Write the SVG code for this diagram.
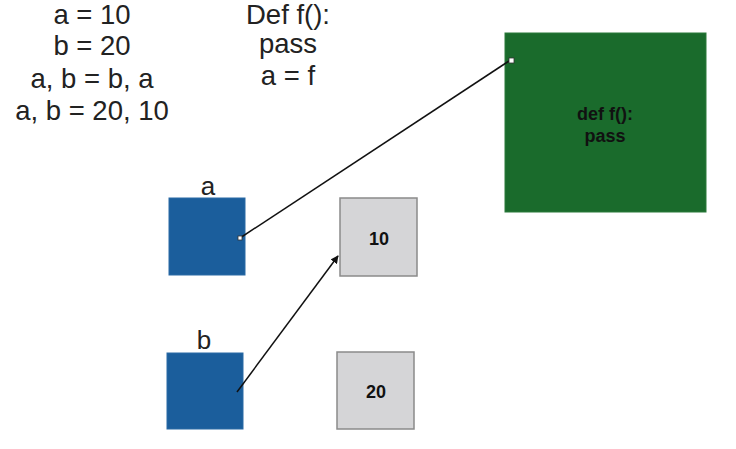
<svg xmlns="http://www.w3.org/2000/svg" width="736" height="449" viewBox="0 0 736 449">
<defs>
<style>
.code{font-family:"Liberation Sans",Arial,sans-serif;font-size:27.5px;fill:#222;text-anchor:middle}
.lbl{font-family:"Liberation Sans",Arial,sans-serif;font-size:26px;fill:#222;text-anchor:middle}
.val{font-family:"Liberation Sans",Arial,sans-serif;font-size:18px;font-weight:bold;fill:#111;text-anchor:middle}
.var{fill:#1b5e9c;stroke:#2a6aa5;stroke-width:1}
.obj{fill:#d5d5d7;stroke:#8a8a8a;stroke-width:1.5}
.fn{fill:#1a6b2c;stroke:#2a7a3a;stroke-width:1}
.dot{fill:#fff;stroke:#333;stroke-width:0.8}
.conn{stroke:#111;stroke-width:1.5;fill:none}
</style>
<marker id="arr" viewBox="0 0 10 10" refX="9" refY="5" markerWidth="8" markerHeight="8" markerUnits="userSpaceOnUse" orient="auto">
<path d="M0,0 L10,5 L0,10 z" fill="#111"/>
</marker>
</defs>
<rect width="736" height="449" fill="#fff"/>
<g id="code-left">
<text class="code" x="92" y="24">a = 10</text>
<text class="code" x="92" y="55">b = 20</text>
<text class="code" x="92" y="88">a, b = b, a</text>
<text class="code" x="92" y="120">a, b = 20, 10</text>
</g>
<g id="code-right">
<text class="code" x="288" y="24">Def f():</text>
<text class="code" x="288" y="53">pass</text>
<text class="code" x="288" y="85">a = f</text>
</g>
<g id="var-a">
<text class="lbl" x="208" y="195">a</text>
<rect class="var" x="169" y="198" width="76" height="77"/>
</g>
<g id="var-b">
<text class="lbl" x="204" y="349">b</text>
<rect class="var" x="167" y="353" width="76" height="76"/>
</g>
<g id="obj-10">
<rect class="obj" x="340" y="198" width="77" height="78"/>
<text class="val" x="379" y="245">10</text>
</g>
<g id="obj-20">
<rect class="obj" x="337" y="352" width="77" height="77"/>
<text class="val" x="376" y="398">20</text>
</g>
<g id="obj-func">
<rect class="fn" x="505" y="33" width="201" height="179"/>
<text class="val" x="605" y="120">def f():</text>
<text class="val" x="605" y="142">pass</text>
</g>
<g id="connectors">
<line class="conn" x1="240" y1="238" x2="509" y2="61"/>
<line class="conn" x1="237" y1="392" x2="338" y2="256" marker-end="url(#arr)"/>
<rect class="dot" x="238" y="236" width="4" height="4"/>
<rect class="dot" x="509" y="58" width="5" height="5"/>
</g>
</svg>
